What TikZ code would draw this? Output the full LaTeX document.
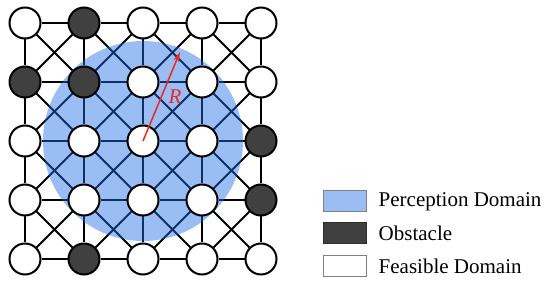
\documentclass[tikz,border=0pt]{standalone}
\usepackage{fontspec}
\setmainfont{Liberation Serif}
\usetikzlibrary{positioning,arrows.meta}
\pgfdeclarelayer{edges}
\pgfdeclarelayer{domain}
\pgfsetlayers{edges,domain,main}
\definecolor{domainblue}{RGB}{30,110,230}
\definecolor{obstgray}{RGB}{64,64,64}
\definecolor{arrowred}{RGB}{235,40,30}
\tikzset{
  cell/.style={circle,draw,line width=2pt,fill=white,minimum size=31pt,inner sep=0pt},
  obst/.style={fill=obstgray},
  cell 1-0/.style=obst, cell 0-1/.style=obst, cell 1-1/.style=obst,
  cell 4-2/.style=obst, cell 4-3/.style=obst, cell 1-4/.style=obst,
  link/.style={line width=1.8pt},
  legbox/.style={draw=gray,line width=1pt,minimum width=43pt,minimum height=21pt,inner sep=0pt},
  legtext/.style={inner sep=0pt}
}

\begin{document}
\begin{tikzpicture}[x=1pt,y=-1pt,font=\fontsize{21}{25}\selectfont]
\useasboundingbox (0,0) rectangle (550,283);

% grid cells
\foreach \i in {0,...,4}
  \foreach \j in {0,...,4}
    \node[cell,cell \i-\j/.try] (n-\i-\j) at (25+59*\i,23+59*\j) {};

% links
\begin{pgfonlayer}{edges}
\foreach \i in {0,...,3}{
  \pgfmathtruncatemacro\k{\i+1}
  \foreach \j in {0,...,4}
    \draw[link] (n-\i-\j) -- (n-\k-\j) (n-\j-\i) -- (n-\j-\k);
  \foreach \j in {0,...,3}{
    \pgfmathtruncatemacro\l{\j+1}
    \draw[link] (n-\i-\j) -- (n-\k-\l) (n-\k-\j) -- (n-\i-\l);
  }
}
\end{pgfonlayer}

% perception domain
\begin{pgfonlayer}{domain}
\fill[domainblue,opacity=0.45] (n-2-2) circle[radius=100pt];
\end{pgfonlayer}

\coordinate (tip) at (180,52);
\draw[arrowred,line width=1.5pt,-{Stealth[length=10pt,width=6pt]}] (n-2-2.center) -- node[right=3pt,text=arrowred] {\textit{R}} (tip);

% legend
\node[legbox,fill=domainblue!45] (lp) at (344.5,201.5) {};
\node[legbox,fill=obstgray,draw=obstgray!70!black] (lo) at (344.5,233) {};
\node[legbox,fill=white] (lf) at (344.5,266.5) {};
\node[legtext,right=12pt of lp] (tp) {Perception Domain};
\node[legtext,right=12pt of lo] (to) {Obstacle};
\node[legtext,right=12pt of lf] (tf) {Feasible Domain};
\end{tikzpicture}
\end{document}
